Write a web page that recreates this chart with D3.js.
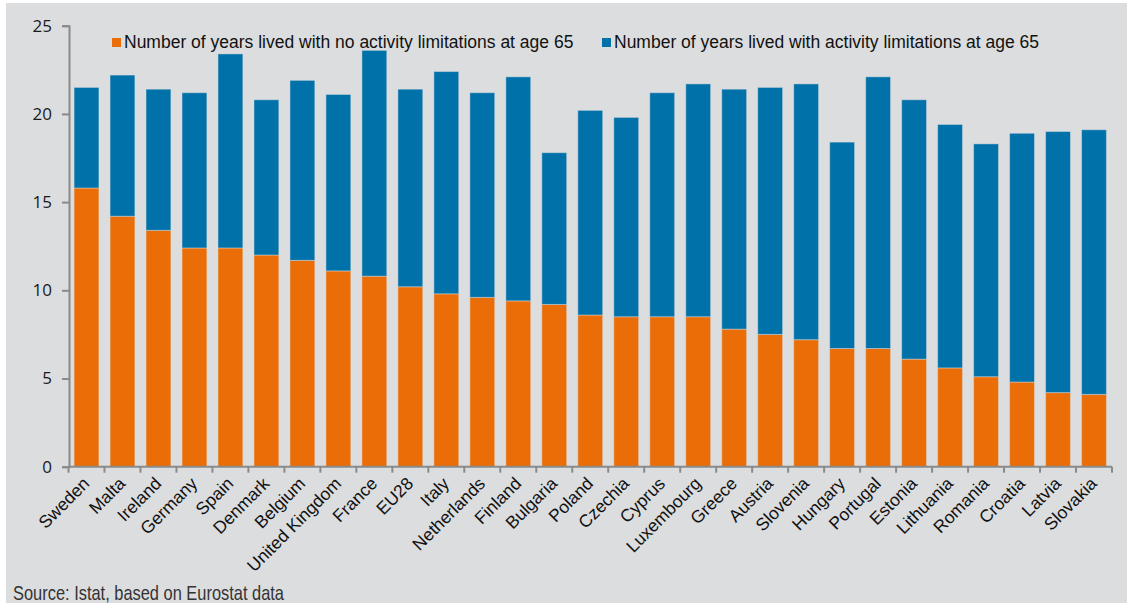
<!DOCTYPE html>
<html>
<head>
<meta charset="utf-8">
<script src="https://cdn.jsdelivr.net/npm/d3@7"></script>
<style>
  html, body { margin: 0; padding: 0; background: #ffffff; }
  svg { display: block; }
</style>
</head>
<body>
<svg id="chart" width="1127" height="603"></svg>
<script>
// Healthy life years at age 65, by country (years)
const countries = ["Sweden", "Malta", "Ireland", "Germany", "Spain", "Denmark", "Belgium",
  "United Kingdom", "France", "EU28", "Italy", "Netherlands", "Finland", "Bulgaria", "Poland",
  "Czechia", "Cyprus", "Luxembourg", "Greece", "Austria", "Slovenia", "Hungary", "Portugal",
  "Estonia", "Lithuania", "Romania", "Croatia", "Latvia", "Slovakia"];

// Years lived with no activity limitations
const noLimitation = [15.8, 14.2, 13.4, 12.4, 12.4, 12.0, 11.7, 11.1, 10.8, 10.2, 9.8, 9.6, 9.4,
  9.2, 8.6, 8.5, 8.5, 8.5, 7.8, 7.5, 7.2, 6.7, 6.7, 6.1, 5.6, 5.1, 4.8, 4.2, 4.1];

// Years lived with activity limitations
const withLimitation = [5.7, 8.0, 8.0, 8.8, 11.0, 8.8, 10.2, 10.0, 12.8, 11.2, 12.6, 11.6, 12.7,
  8.6, 11.6, 11.3, 12.7, 13.2, 13.6, 14.0, 14.5, 11.7, 15.4, 14.7, 13.8, 13.2, 14.1, 14.8, 15.0];

const seriesNames = [
  "Number of years lived with no activity limitations at age 65",
  "Number of years lived with activity limitations at age 65"
];
const yTicks = [0, 5, 10, 15, 20, 25];

const colors = ["#ea6d07", "#0071a9"];
const bg = "#dcdddf";
const axisColor = "#8a8a8a";

const svg = d3.select("#chart");

// panel background
svg.append("rect")
  .attr("x", 6).attr("y", 3)
  .attr("width", 1121).attr("height", 600)
  .attr("fill", bg);

const rows = countries.map((c, i) => ({ country: c, a: noLimitation[i], b: withLimitation[i] }));
const stacked = d3.stack().keys(["a", "b"])(rows);

const x = d3.scaleBand()
  .domain(countries)
  .range([68.5, 1112])
  .paddingInner(0.31)
  .paddingOuter(0.155);

const y = d3.scaleLinear().domain([0, 25]).range([466.7, 25.7]);

// stacked bars
svg.append("g").selectAll("g")
  .data(stacked)
  .join("g")
  .attr("fill", (d, i) => colors[i])
  .selectAll("rect")
  .data(d => d)
  .join("rect")
  .attr("x", d => x(d.data.country))
  .attr("width", x.bandwidth())
  .attr("y", d => y(d[1]))
  .attr("height", d => y(d[0]) - y(d[1]))
  .attr("stroke", "#dcdddf")
  .attr("stroke-opacity", 0.45)
  .attr("stroke-width", 1);

// y axis
const yAxis = svg.append("g")
  .attr("transform", "translate(69,0)")
  .call(d3.axisLeft(y).tickValues(yTicks).tickSize(7).tickPadding(10).tickFormat(d3.format("d")));
yAxis.select(".domain").attr("stroke", axisColor).attr("stroke-width", 2);
yAxis.selectAll(".tick line").attr("stroke", axisColor).attr("stroke-width", 2);
yAxis.selectAll(".tick text")
  .attr("fill", "#1a1a1a")
  .style("font-family", "'Open Sans', 'DejaVu Sans', sans-serif")
  .style("font-size", "17px");

// x axis with category boundary ticks
const xAxisG = svg.append("g")
  .attr("transform", "translate(0,466.7)");
xAxisG.call(d3.axisBottom(x).tickSize(0).tickPadding(0));
xAxisG.select(".domain").remove();
xAxisG.append("line")
  .attr("x1", 68).attr("x2", 1112)
  .attr("stroke", axisColor).attr("stroke-width", 2);
const step = x.step();
xAxisG.selectAll(".boundary")
  .data(d3.range(countries.length + 1))
  .join("line")
  .attr("class", "boundary")
  .attr("x1", i => 68.5 + i * step)
  .attr("x2", i => 68.5 + i * step)
  .attr("y1", 0).attr("y2", 6)
  .attr("stroke", axisColor).attr("stroke-width", 2);
xAxisG.selectAll(".tick text")
  .attr("fill", "#111")
  .attr("text-anchor", "end")
  .attr("x", 0).attr("y", 0).attr("dy", null)
  .attr("transform", "translate(4,18) rotate(-45)")
  .style("font-family", "'Liberation Sans', Arial, sans-serif")
  .style("font-size", "17.5px");

// legend
const legend = svg.append("g");
const legendPos = [112, 602];
seriesNames.forEach((name, i) => {
  legend.append("rect")
    .attr("x", legendPos[i]).attr("y", 38)
    .attr("width", 9).attr("height", 9)
    .attr("fill", colors[i]);
  legend.append("text")
    .attr("x", legendPos[i] + 12).attr("y", 48)
    .attr("fill", "#111")
    .style("font-family", "'Liberation Sans', Arial, sans-serif")
    .style("font-size", "17.5px")
    .text(name);
});

// source note
svg.append("text")
  .attr("x", 13).attr("y", 599.5)
  .attr("fill", "#333")
  .attr("textLength", 271)
  .attr("lengthAdjust", "spacingAndGlyphs")
  .style("font-family", "'Liberation Sans Narrow', 'Liberation Sans', Arial, sans-serif")
  .style("font-size", "21px")
  .text("Source: Istat, based on Eurostat data");
</script>
</body>
</html>
